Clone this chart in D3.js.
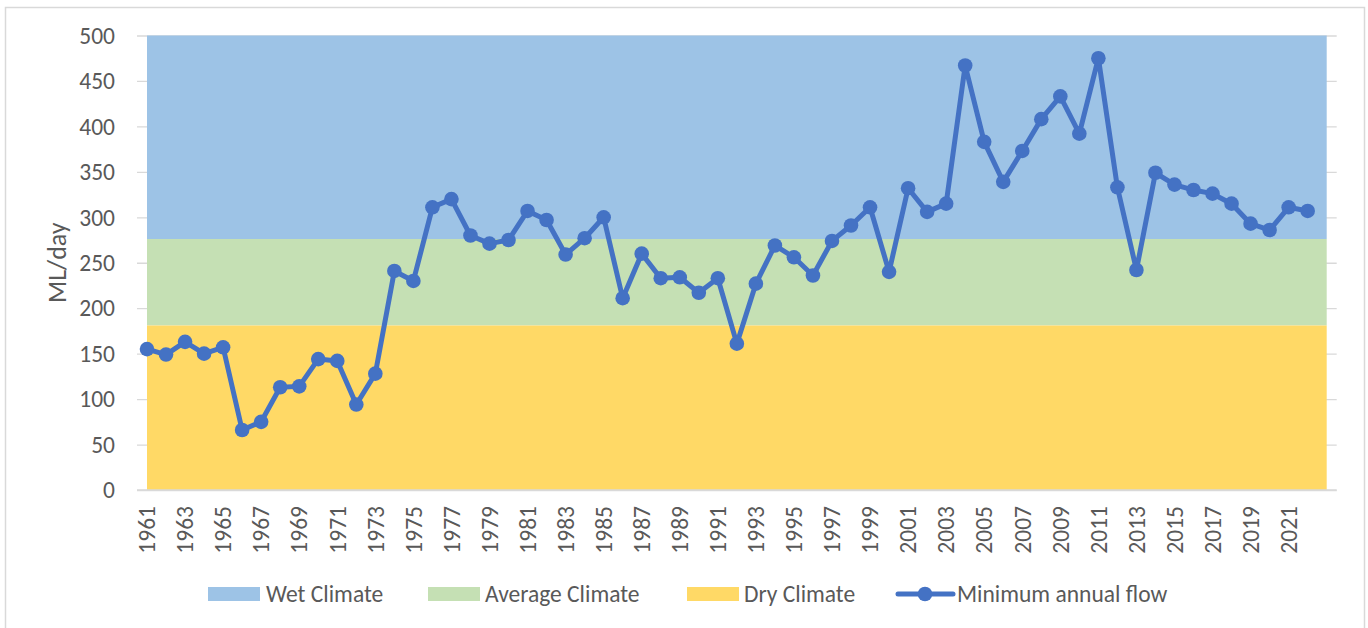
<!DOCTYPE html>
<html>
<head>
<meta charset="utf-8">
<script src="https://cdn.jsdelivr.net/npm/d3@7"></script>
<style>
  html, body { margin: 0; padding: 0; background: #fff; }
  svg { display: block; }
  text { font-family: Carlito, Calibri, "Liberation Sans", Arial, sans-serif; fill: #595959; }
</style>
</head>
<body>
<svg id="chart" width="1368" height="628"></svg>
<script>
// ---------- data ----------
const years = [1961,1962,1963,1964,1965,1966,1967,1968,1969,1970,
  1971,1972,1973,1974,1975,1976,1977,1978,1979,1980,
  1981,1982,1983,1984,1985,1986,1987,1988,1989,1990,
  1991,1992,1993,1994,1995,1996,1997,1998,1999,2000,
  2001,2002,2003,2004,2005,2006,2007,2008,2009,2010,
  2011,2012,2013,2014,2015,2016,2017,2018,2019,2020,
  2021,2022];
const minFlow = [155,149,163,150,157,66,75,113,114,144,
  142,94,128,241,230,311,320,280,271,275,
  307,297,259,277,300,211,260,233,234,217,
  233,161,227,269,256,236,274,291,311,240,
  332,306,315,467,383,339,373,408,433,392,
  475,333,242,349,336,330,326,315,293,286,
  311,307];
const categoryStart = 1961;
const categoryEnd = 2023;
const bandNames = ["Wet Climate", "Average Climate", "Dry Climate"];
const bandLower = [276, 181, 0];
const bandUpper = [500, 276, 181];
const bandColors = ["#9DC3E6", "#C5E0B4", "#FFD966"];
const yTicks = [0,50,100,150,200,250,300,350,400,450,500];
const xTickLabels = [1961,1963,1965,1967,1969,1971,1973,1975,1977,1979,
  1981,1983,1985,1987,1989,1991,1993,1995,1997,1999,
  2001,2003,2005,2007,2009,2011,2013,2015,2017,2019,2021];
const seriesName = "Minimum annual flow";
const yTitle = "ML/day";

// ---------- layout ----------
const svg = d3.select("#chart");
const plot = { left: 147, right: 1326.7, top: 35.5, bottom: 490 };
const lineColor = "#4472C4";
const gridColor = "#D9D9D9";
const FONT = "Carlito, Calibri, 'Liberation Sans', Arial, sans-serif";

// chart border
svg.append("rect")
  .attr("x", 5.5).attr("y", 7.5).attr("width", 1359).attr("height", 630)
  .attr("fill", "#fff").attr("stroke", "#D9D9D9").attr("stroke-width", 1.5);

const x = d3.scaleLinear().domain([categoryStart, categoryEnd]).range([plot.left, plot.right]);
const y = d3.scaleLinear().domain([0, 500]).range([plot.bottom, plot.top]);

// gridlines (extend slightly outside the plot)
const yAxis = d3.axisLeft(y).tickValues(yTicks)
  .tickSize(-(plot.right - plot.left + 20)).tickFormat(d3.format("d")).tickPadding(22);
const gy = svg.append("g").attr("transform", `translate(${plot.left - 10},0)`).call(yAxis);
gy.select(".domain").remove();
gy.selectAll(".tick line").attr("stroke", gridColor).attr("stroke-width", 1.3);
gy.selectAll(".tick text").attr("font-size", 23.5).attr("fill", "#595959")
  .style("font-family", FONT)
  .attr("x", -22).attr("dy", "0.33em");

// bands as areas across all categories
bandNames.forEach((name, i) => {
  const area = d3.area()
    .x(d => x(d))
    .y0(() => y(bandLower[i]))
    .y1(() => y(bandUpper[i]));
  svg.append("path")
    .datum([categoryStart, categoryEnd])
    .attr("d", area)
    .attr("fill", bandColors[i]);
});

// bottom axis line
svg.append("line")
  .attr("x1", plot.left - 10).attr("x2", plot.right + 10)
  .attr("y1", y(0)).attr("y2", y(0))
  .attr("stroke", gridColor).attr("stroke-width", 1.5);

// x tick labels
const xAxis = d3.axisBottom(x).tickValues(xTickLabels).tickSize(0).tickFormat(d3.format("d"));
const gx = svg.append("g").attr("transform", `translate(0,${plot.bottom})`).call(xAxis);
gx.select(".domain").remove();
gx.selectAll(".tick text")
  .attr("font-size", 23.5)
  .attr("fill", "#595959")
  .style("font-family", FONT)
  .attr("transform", "rotate(-90)")
  .attr("text-anchor", "end")
  .attr("x", -16)
  .attr("y", 0)
  .attr("dy", "0.33em");

// y title
svg.append("text")
  .attr("transform", `translate(57,${(plot.top + plot.bottom) / 2}) rotate(-90)`)
  .attr("text-anchor", "middle").attr("dy", "0.33em")
  .attr("font-size", 26).attr("fill", "#595959")
  .style("font-family", FONT)
  .text(yTitle);

// series line
const line = d3.line().x((d, i) => x(years[i])).y(d => y(d));
svg.append("path")
  .datum(minFlow)
  .attr("d", line)
  .attr("fill", "none")
  .attr("stroke", lineColor)
  .attr("stroke-width", 5)
  .attr("stroke-linejoin", "round");
svg.append("g").selectAll("circle")
  .data(minFlow)
  .join("circle")
  .attr("cx", (d, i) => x(years[i]))
  .attr("cy", d => y(d))
  .attr("r", 7.3)
  .attr("fill", lineColor);

// legend
const legendY = 594;
const swatchX = [208, 428, 687];
const textX = [266, 485, 744];
bandNames.forEach((name, i) => {
  svg.append("rect").attr("x", swatchX[i]).attr("y", legendY - 7).attr("width", 52).attr("height", 14)
    .attr("fill", bandColors[i]);
  svg.append("text").attr("x", textX[i]).attr("y", legendY).attr("dy", "0.33em")
    .attr("font-size", 23.5).attr("fill", "#595959").style("font-family", FONT).text(name);
});
svg.append("line").attr("x1", 898).attr("x2", 953).attr("y1", legendY).attr("y2", legendY)
  .attr("stroke", lineColor).attr("stroke-width", 5).attr("stroke-linecap", "round");
svg.append("circle").attr("cx", 925).attr("cy", legendY).attr("r", 7.3).attr("fill", lineColor);
svg.append("text").attr("x", 957).attr("y", legendY).attr("dy", "0.33em")
  .attr("font-size", 23.5).attr("fill", "#595959").style("font-family", FONT).text(seriesName);
</script>
</body>
</html>
